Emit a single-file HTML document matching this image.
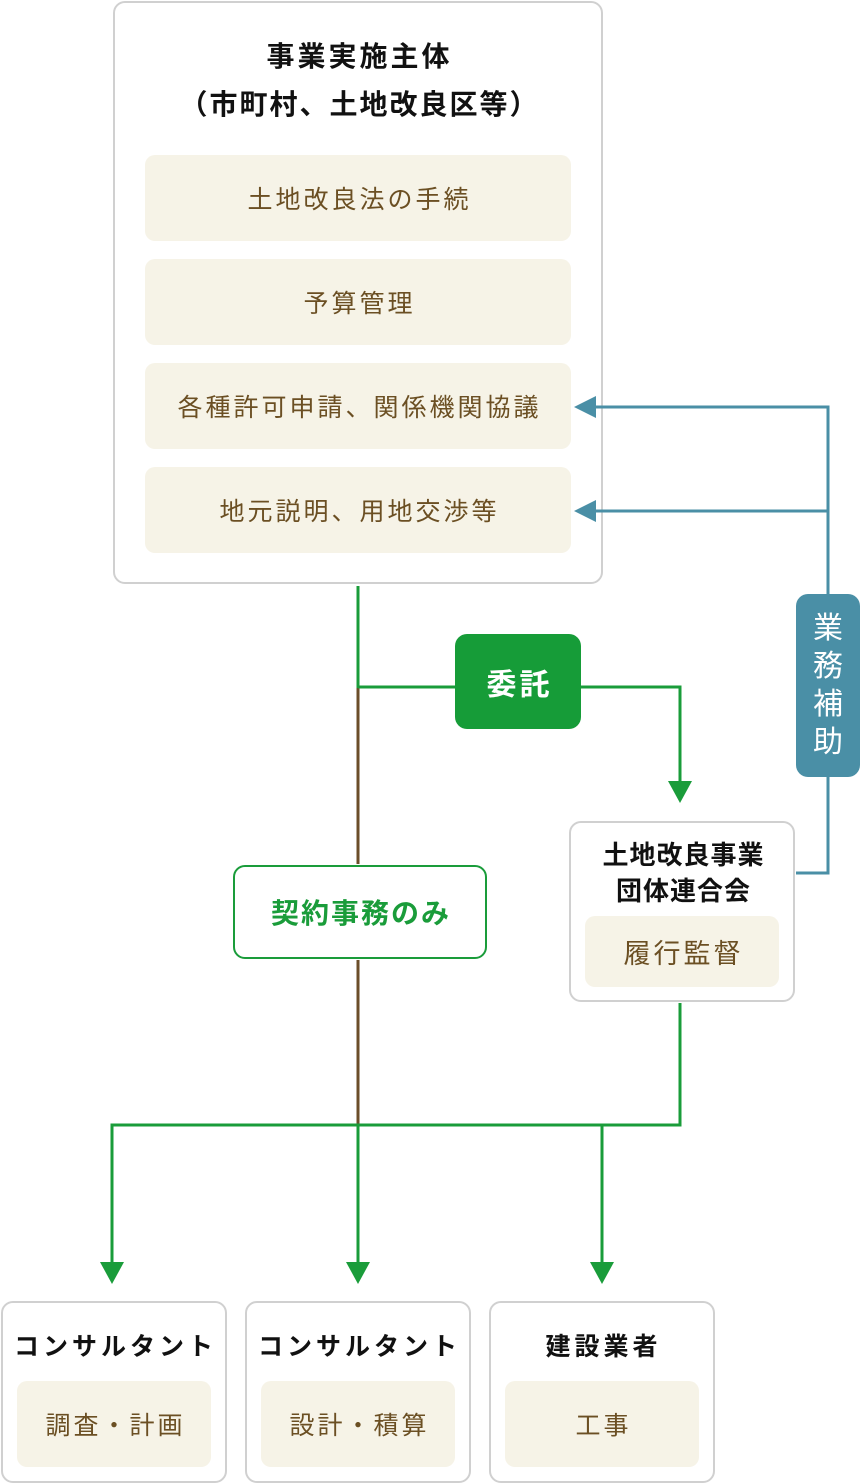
<!DOCTYPE html>
<html><head><meta charset="utf-8"><style>
body{margin:0;width:860px;height:1484px;background:#fff;position:relative;font-family:"Liberation Sans","Noto Sans CJK JP",sans-serif;overflow:hidden}
.b{position:absolute;box-sizing:border-box;border:2px solid #d0d0d0;border-radius:12px;background:#fff}
.in{position:absolute;background:#f6f3e7;border-radius:10px;color:#6b4f23;font-size:25px;letter-spacing:3px;text-indent:3px;display:flex;align-items:center;justify-content:center}
.t{position:absolute;left:0;right:0;text-align:center;font-weight:bold;color:#111;letter-spacing:3px;text-indent:3px}
svg{position:absolute;left:0;top:0;z-index:5}
</style></head><body>
<div class="b" style="left:113px;top:1px;width:490px;height:583px">
<div class="t" style="top:36px;font-size:28px;line-height:36px">事業実施主体</div>
<div class="t" style="top:84px;font-size:28px;line-height:36px;letter-spacing:2px">（市町村、土地改良区等）</div>
</div>
<div class="in" style="left:145px;top:155px;width:426px;height:86px">土地改良法の手続</div>
<div class="in" style="left:145px;top:259px;width:426px;height:86px">予算管理</div>
<div class="in" style="left:145px;top:363px;width:426px;height:86px">各種許可申請、関係機関協議</div>
<div class="in" style="left:145px;top:467px;width:426px;height:86px">地元説明、用地交渉等</div>
<div style="position:absolute;left:455px;top:634px;width:126px;height:95px;background:#169c38;border-radius:12px;color:#fff;font-weight:bold;font-size:30px;letter-spacing:3px;text-indent:3px;display:flex;align-items:center;justify-content:center">委託</div>
<div style="position:absolute;left:796px;top:594px;width:64px;height:183px;background:#4a8fa6;border-radius:12px;color:#fff;font-size:30px;line-height:38px;display:flex;flex-direction:column;align-items:center;justify-content:center"><span>業</span><span>務</span><span>補</span><span>助</span></div>
<div style="position:absolute;left:233px;top:865px;width:254px;height:94px;box-sizing:border-box;border:2px solid #1a9c3a;border-radius:12px;background:#fff;color:#1a9c3a;font-weight:bold;font-size:28px;letter-spacing:2px;text-indent:2px;display:flex;align-items:center;justify-content:center">契約事務のみ</div>
<div class="b" style="left:569px;top:821px;width:226px;height:181px">
<div class="t" style="top:15px;font-size:26px;line-height:34px;letter-spacing:1px">土地改良事業</div>
<div class="t" style="top:51px;font-size:26px;line-height:34px;letter-spacing:1px">団体連合会</div>
</div>
<div class="in" style="left:585px;top:916px;width:194px;height:71px;font-size:27px">履行監督</div>
<div class="b" style="left:1px;top:1301px;width:226px;height:182px"><div class="t" style="top:28px;font-size:25px;line-height:32px;letter-spacing:4px">コンサルタント</div></div>
<div class="in" style="left:17px;top:1381px;width:194px;height:86px">調査・計画</div>
<div class="b" style="left:245px;top:1301px;width:226px;height:182px"><div class="t" style="top:28px;font-size:25px;line-height:32px;letter-spacing:4px">コンサルタント</div></div>
<div class="in" style="left:261px;top:1381px;width:194px;height:86px">設計・積算</div>
<div class="b" style="left:489px;top:1301px;width:226px;height:182px"><div class="t" style="top:28px;font-size:25px;line-height:32px;letter-spacing:4px">建設業者</div></div>
<div class="in" style="left:505px;top:1381px;width:194px;height:86px">工事</div>
<svg width="860" height="1484">
<g fill="none" stroke-width="3">
<line x1="358" y1="586" x2="358" y2="688" stroke="#1a9c3a"/>
<line x1="358" y1="688" x2="358" y2="864" stroke="#6b4e2a"/>
<line x1="358" y1="960" x2="358" y2="1125" stroke="#6b4e2a"/>
<polyline points="358,687 455,687" stroke="#1a9c3a"/>
<polyline points="581,687 680,687 680,790" stroke="#1a9c3a"/>
<polyline points="680,1003 680,1125 112,1125 112,1270" stroke="#1a9c3a"/>
<line x1="358" y1="1125" x2="358" y2="1270" stroke="#1a9c3a"/>
<line x1="602" y1="1125" x2="602" y2="1270" stroke="#1a9c3a"/>
<polyline points="590,407 828,407 828,594" stroke="#4a8fa6"/>
<polyline points="828,777 828,873 796,873" stroke="#4a8fa6"/>
<line x1="590" y1="511" x2="828" y2="511" stroke="#4a8fa6"/>
</g>
<g fill="#1a9c3a">
<polygon points="668,781 692,781 680,803"/>
<polygon points="100,1262 124,1262 112,1284"/>
<polygon points="346,1262 370,1262 358,1284"/>
<polygon points="590,1262 614,1262 602,1284"/>
</g>
<g fill="#4a8fa6">
<polygon points="574,407 596,396 596,418"/>
<polygon points="574,511 596,500 596,522"/>
</g>
</svg>
</body></html>
